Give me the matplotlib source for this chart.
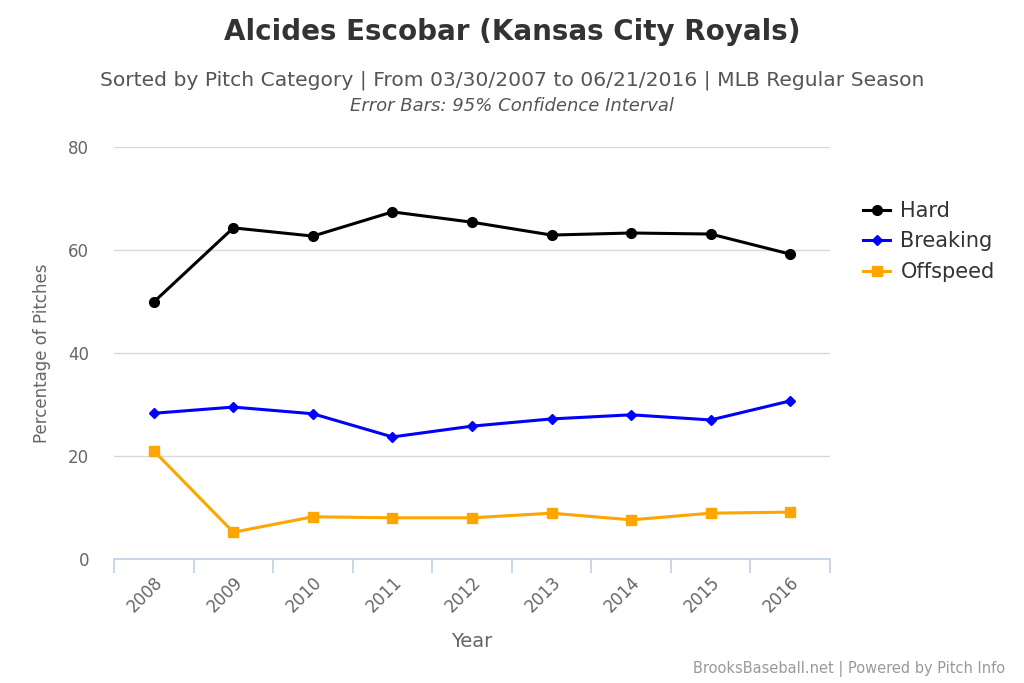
import matplotlib.pyplot as plt

years = ['2008', '2009', '2010', '2011', '2012', '2013', '2014', '2015', '2016']
hard = [49.9, 64.3, 62.7, 67.4, 65.4, 62.9, 63.3, 63.1, 59.2]
breaking = [28.3, 29.5, 28.2, 23.7, 25.8, 27.2, 28.0, 27.0, 30.7]
offspeed = [21.0, 5.2, 8.2, 8.0, 8.0, 8.9, 7.6, 8.9, 9.1]

fig = plt.figure(figsize=(10.24, 6.83), dpi=100)
ax = fig.add_axes([114 / 1024, 124 / 683, 716 / 1024, 412 / 683])

x = list(range(len(years)))
ax.plot(x, hard, color='black', lw=2.2, marker='o', ms=7, label='Hard', zorder=3)
ax.plot(x, breaking, color='#0000FF', lw=2.2, marker='D', ms=5, label='Breaking', zorder=3)
ax.plot(x, offspeed, color='#FFA500', lw=2.2, marker='s', ms=7, label='Offspeed', zorder=3)

ax.set_xlim(-0.5, len(years) - 0.5)
ax.set_ylim(0, 80)
ax.set_yticks([0, 20, 40, 60, 80])
ax.yaxis.grid(True, color='#D8D8D8', lw=1)
ax.set_axisbelow(True)
for s in ['top', 'right', 'left']:
    ax.spines[s].set_visible(False)
ax.spines['bottom'].set_color('#C0D0E0')
ax.spines['bottom'].set_linewidth(1.2)

# ticks sit between categories, labels at centres
ax.set_xticks([i - 0.5 for i in range(len(years) + 1)])
ax.set_xticklabels([])
ax.set_xticks(x, minor=True)
ax.set_xticklabels(years, minor=True, rotation=45, ha='right', rotation_mode='anchor',
                   color='#666666', fontsize=12)
ax.tick_params(axis='x', which='major', length=10, color='#C0D0E0', width=1.2)
ax.tick_params(axis='x', which='minor', length=0, pad=10)
ax.tick_params(axis='y', length=0, labelcolor='#666666', labelsize=12, pad=18)

ax.set_ylabel('Percentage of Pitches', color='#666666', fontsize=12, labelpad=12)
ax.set_xlabel('Year', color='#666666', fontsize=14, labelpad=12)

leg = fig.legend(*ax.get_legend_handles_labels(), loc='upper left',
                 bbox_to_anchor=(863 / 1024, 1 - 201 / 683), frameon=False,
                 fontsize=15, handlelength=1.3, labelspacing=0.5, handletextpad=0.5,
                 borderpad=0, borderaxespad=0, labelcolor='#333333')

fig.text(0.5, 1 - 32 / 683, 'Alcides Escobar (Kansas City Royals)', ha='center', va='center',
         fontsize=20, color='#333333', fontweight='bold')
fig.text(0.5, 1 - 80 / 683,
         'Sorted by Pitch Category | From 03/30/2007 to 06/21/2016 | MLB Regular Season',
         ha='center', va='center', fontsize=14.6, color='#555555')
fig.text(0.5, 1 - 106 / 683, 'Error Bars: 95% Confidence Interval', ha='center', va='center',
         fontsize=13, color='#555555', style='italic')
fig.text(1005 / 1024, 1 - 669 / 683, 'BrooksBaseball.net | Powered by Pitch Info',
         ha='right', va='center', fontsize=10.5, color='#999999')

fig.savefig('out.png', dpi=100)
